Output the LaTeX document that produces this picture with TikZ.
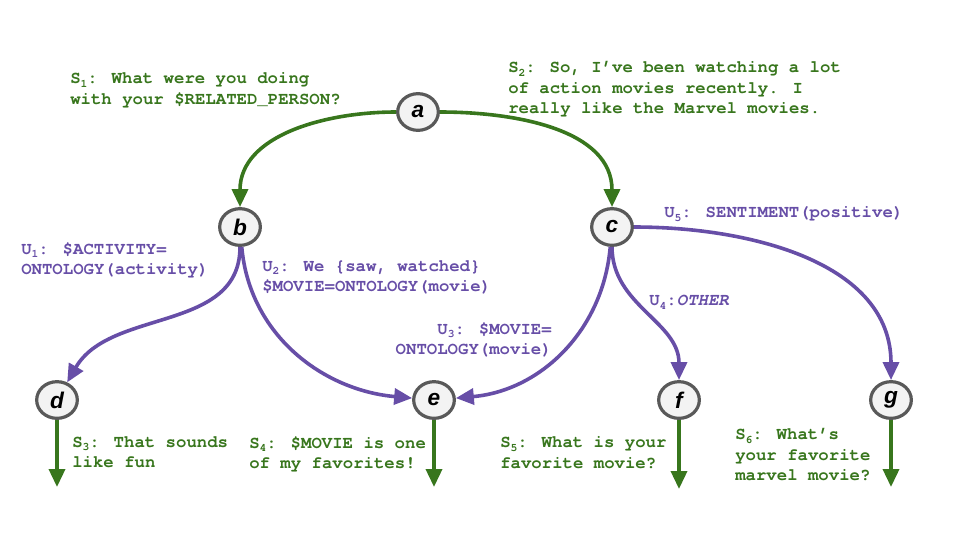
\documentclass[tikz,border=0pt]{standalone}
\usepackage{fontspec}
\newfontfamily\lblfont{TeX Gyre Cursor}
\newfontfamily\nodefnt{Liberation Sans}
\usetikzlibrary{arrows.meta,shapes.geometric}
\definecolor{dgreen}{HTML}{38761D}
\definecolor{dpurple}{HTML}{674EA7}
\definecolor{nodefill}{HTML}{F3F3F3}
\definecolor{nodeline}{HTML}{595959}
\newcommand{\lsub}[1]{\raisebox{-0.22em}{\fontsize{8.5}{8.5}\selectfont #1}}
\begin{document}
\begin{tikzpicture}[x=0.75pt,y=-0.75pt,
  state/.style={ellipse,draw=nodeline,fill=nodefill,line width=2.4pt,
    minimum width=30.5pt,minimum height=27.5pt,inner sep=0pt,
    font=\nodefnt\fontsize{17}{17}\selectfont\bfseries\itshape},
  garrow/.style={draw=dgreen,line width=2.7pt,-{Triangle[length=13.5pt,width=12pt]}},
  parrow/.style={draw=dpurple,line width=2.7pt,-{Triangle[length=13.5pt,width=12pt]}},
  lbl/.style={anchor=north west,inner sep=0pt,align=left,
    font=\lblfont\fontsize{13}{15.5}\selectfont\bfseries},
  glbl/.style={lbl,text=dgreen},
  plbl/.style={lbl,text=dpurple}]
\useasboundingbox (0,0) rectangle (960,540);
\node[state] (a) at (418,112) {a};
\node[state] (b) at (240,227) {b};
\node[state] (c) at (612,227) {c};
\node[state] (d) at (57,400) {d};
\node[state] (e) at (434,400) {e};
\node[state] (f) at (679,400) {f};
\node[state] (g) at (891,400) {g};
\coordinate (d2) at (57,487);
\coordinate (e2) at (434,487);
\coordinate (f2) at (679,489);
\coordinate (g2) at (891,487);
\draw[garrow] (a) to[out=180,in=90] (b);
\draw[garrow] (a) to[out=0,in=90] (c);
\draw[parrow] (b) to[out=-90,in=60] (d);
\draw[parrow] (b) to[out=-85,in=175] (e);
\draw[parrow] (c) to[out=-95,in=5] (e);
\draw[parrow] (c) to[out=-90,in=90] (f);
\draw[parrow] (c) to[out=0,in=90] (g);
\draw[garrow] (d) -- (d2);
\draw[garrow] (e) -- (e2);
\draw[garrow] (f) -- (f2);
\draw[garrow] (g) -- (g2);
\node[glbl] (s1) at (70,72) {S\lsub{1}: What were you doing\\with your \$RELATED\_PERSON?};
\node[glbl] (s2) at (508,61) {S\lsub{2}: So, I’ve been watching a lot\\of action movies recently. I\\really like the Marvel movies.};
\node[plbl] (u1) at (21,242) {U\lsub{1}: \$ACTIVITY=\\ONTOLOGY(activity)};
\node[plbl] (u2) at (262,260) {U\lsub{2}: We \{saw, watched\}\\\$MOVIE=ONTOLOGY(movie)};
\node[plbl,anchor=north east,align=right] (u3) at (552,322) {U\lsub{3}: \$MOVIE=\\ONTOLOGY(movie)};
\node[plbl] (u4) at (649,295) {U\lsub{4}:\textit{OTHER}};
\node[plbl] (u5) at (664,206) {U\lsub{5}: SENTIMENT(positive)};
\node[glbl] (s3) at (72,436) {S\lsub{3}: That sounds\\like fun};
\node[glbl] (s4) at (249,436) {S\lsub{4}: \$MOVIE is one\\of my favorites!};
\node[glbl] (s5) at (500,436) {S\lsub{5}: What is your\\favorite movie?};
\node[glbl] (s6) at (735,428) {S\lsub{6}: What’s\\your favorite\\marvel movie?};
\end{tikzpicture}
\end{document}
